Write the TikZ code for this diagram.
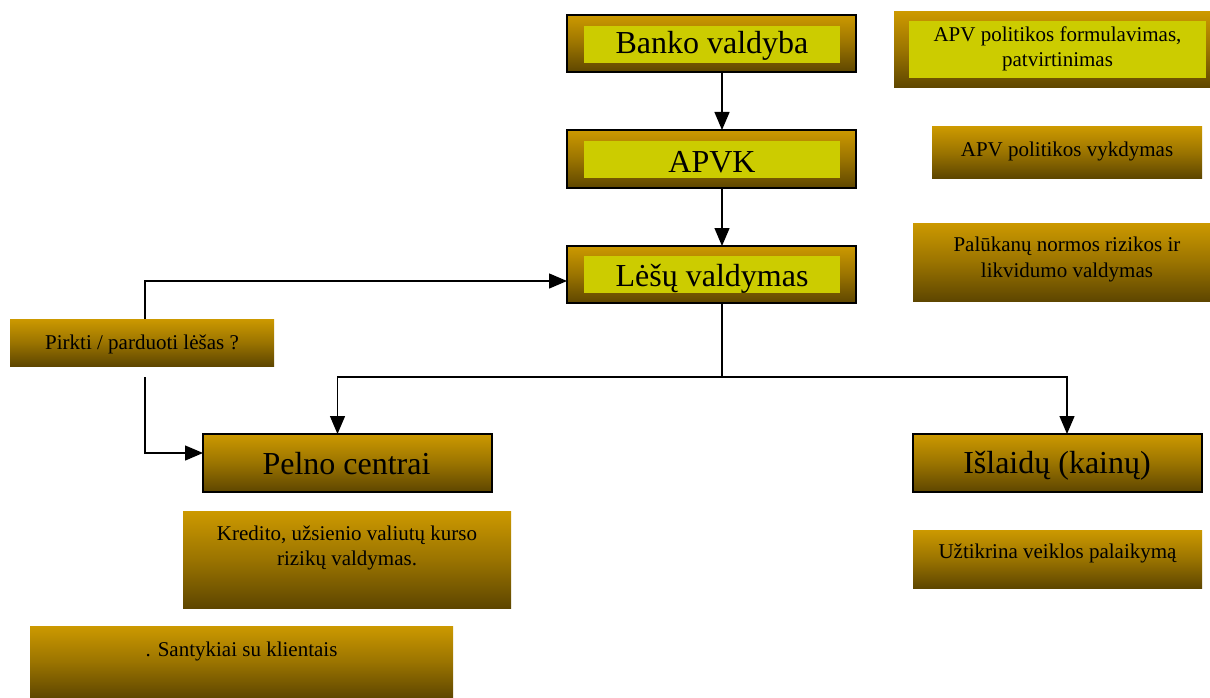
\documentclass[tikz,border=0pt]{standalone}
\usepackage{fontspec}
\setmainfont{Liberation Serif}
\usetikzlibrary{arrows.meta,calc}
\definecolor{gtop}{RGB}{204,153,0}
\definecolor{gbot}{RGB}{94,70,0}
\definecolor{inyel}{RGB}{204,204,0}
\tikzset{
  gbox/.style={rectangle, inner sep=0pt, outer sep=0pt, top color=gtop, bottom color=gbot, middle color=gtop!55!gbot},
  mainbox/.style={gbox, draw=black, line width=1.6pt},
  inbox/.style={rectangle, inner sep=0pt, fill=inyel},
  bigtxt/.style={inner sep=0pt, anchor=base, font=\fontsize{32}{36}\selectfont},
  smalltxt/.style={inner sep=0pt, anchor=base, align=center, font=\fontsize{21}{25.5}\selectfont},
  conn/.style={line width=1.3pt, draw=black},
  arr/.style={conn, -{Triangle[length=18pt,width=15pt]}}
}
\begin{document}
\begin{tikzpicture}[x=1pt,y=-1pt]
\useasboundingbox (0,0) rectangle (1210,698);
% main column
\node[mainbox, minimum width=289, minimum height=57] (bv) at (711.5,43.5) {};
\node[inbox, minimum width=256, minimum height=37] (bvin) at (712,44.5) {};
\node[bigtxt] (bvt) at (712,54) {Banko valdyba};
\node[mainbox, minimum width=289, minimum height=58] (apvk) at (711.5,159) {};
\node[inbox, minimum width=256, minimum height=37] (apvkin) at (712,159.5) {};
\node[bigtxt] (apvkt) at (712,172) {APVK};
\node[mainbox, minimum width=289, minimum height=57] (lesu) at (711.5,274.5) {};
\node[inbox, minimum width=256, minimum height=37] (lesuin) at (712,274.5) {};
\node[bigtxt] (lesut) at (712,286) {Lėšų valdymas};
\node[mainbox, minimum width=289, minimum height=58] (pelno) at (347.5,463) {};
\node[bigtxt] (pelnot) at (346.5,474) {Pelno centrai};
\node[mainbox, minimum width=289, minimum height=58] (isl) at (1057.5,463) {};
\node[bigtxt] (islt) at (1057,473) {Išlaidų (kainų)};
% description boxes
\node[gbox, minimum width=316, minimum height=76] (apvf) at (1052,50) {};
\node[inbox, minimum width=297, minimum height=57] (apvfin) at (1057.5,49.5) {};
\node[smalltxt] (apvft) at (1057.5,67) {APV politikos formulavimas,\\patvirtinimas};
\node[gbox, minimum width=270, minimum height=51] (apvv) at (1067,152.5) {};
\node[smalltxt] (apvvt) at (1067,157) {APV politikos vykdymas};
\node[gbox, minimum width=297, minimum height=78] (paluk) at (1061.5,262) {};
\node[smalltxt] (palukt) at (1067,277) {Palūkanų normos rizikos ir\\likvidumo valdymas};
\node[gbox, minimum width=264, minimum height=47] (pirkti) at (142,342.5) {};
\node[smalltxt] (pirktit) at (142,349) {Pirkti / parduoti lėšas ?};
\node[gbox, minimum width=328, minimum height=97] (kred) at (347,559.5) {};
\node[smalltxt] (kredt) at (347,565.5) {Kredito, užsienio valiutų kurso\\rizikų valdymas.};
\node[gbox, minimum width=423, minimum height=72] (sant) at (241.5,662) {};
\node[smalltxt] (santt) at (241.5,656) {. Santykiai su klientais};
\node[gbox, minimum width=289, minimum height=58] (uzt) at (1057.5,559) {};
\node[smalltxt] (uztt) at (1057.5,558) {Užtikrina veiklos palaikymą};
% connectors
\draw[arr] (bv.south -| 722,0) -- (apvk.north -| 722,0);
\draw[arr] (apvk.south -| 722,0) -- (lesu.north -| 722,0);
\coordinate (pk) at ($(pirkti.north)+(3,0)$);
\draw[arr] (pk) |- ($(lesu.west)+(0,6.5)$);
\coordinate (pb) at ($(pirkti.south)+(3,11)$);
\draw[arr] (pb) |- ($(pelno.west)+(0,-10)$);
\coordinate (j) at (722,377);
\draw[conn] (lesu.south -| j) -- (j);
\draw[arr] (j) -| ($(pelno.north)+(-10,0)$);
\draw[arr] (j) -| ($(isl.north)+(9.5,0)$);
\end{tikzpicture}
\end{document}
